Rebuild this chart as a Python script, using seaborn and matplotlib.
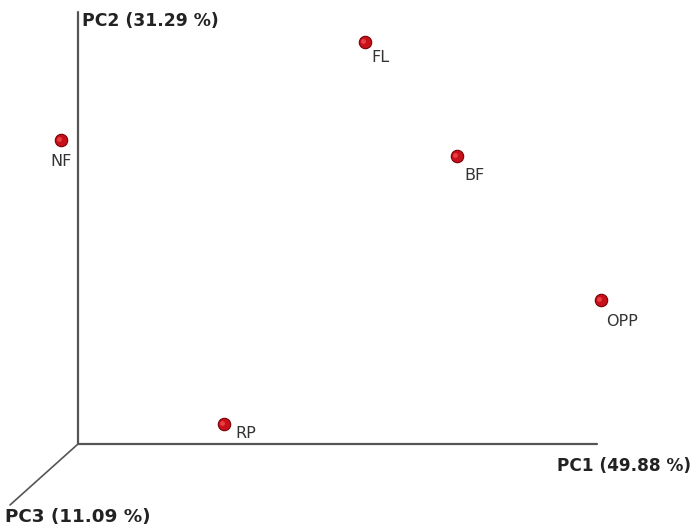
import matplotlib
matplotlib.use("Agg")
import matplotlib.pyplot as plt
import seaborn as sns
import pandas as pd

samples = ["NF", "FL", "BF", "OPP", "RP"]
# projected positions on the 3D PCoA canvas (screen units)
pos_x = [61, 365, 457, 601, 224]
pos_y = [140, 42, 156, 300, 424]
label_dx = [-11, 6, 7, 5, 11]
label_dy = [21, 16, 19, 21, 10]
axis_labels = ["PC1 (49.88 %)", "PC2 (31.29 %)", "PC3 (11.09 %)"]

df = pd.DataFrame({"sample": samples, "x": pos_x, "y": pos_y})

sns.set_style("white")
fig = plt.figure(figsize=(6.94, 5.31), dpi=100)
ax = fig.add_axes([0, 0, 1, 1])
ax.set_xlim(0, 694)
ax.set_ylim(531, 0)
ax.axis("off")

# axes of the 3D frame
axcol = "#555555"
origin = (78, 444)
ax.plot([origin[0], 597], [origin[1], origin[1]], color=axcol, lw=1.6, zorder=1)
ax.plot([origin[0], origin[0]], [origin[1], 12], color=axcol, lw=1.6, zorder=1)
ax.plot([origin[0], 10], [origin[1], 505], color=axcol, lw=1.2, zorder=1)

sns.scatterplot(data=df, x="x", y="y", ax=ax, s=80, color="#c8101a",
                edgecolor="#7a0008", linewidth=0.8, legend=False, zorder=3)
# specular highlight for sphere look
ax.scatter([x - 1.5 for x in pos_x], [y - 1.5 for y in pos_y], s=12,
           color="#ff6060", alpha=0.6, linewidths=0, zorder=4)

for s, x, y, dx, dy in zip(samples, pos_x, pos_y, label_dx, label_dy):
    ax.text(x + dx, y + dy, s, fontsize=11.5, color="#333333",
            ha="left", va="center", zorder=5)

ax.text(557, 466, axis_labels[0], fontsize=12.2, fontweight="bold",
        color="#222222", ha="left", va="center")
ax.text(82, 21, axis_labels[1], fontsize=12.4, fontweight="bold",
        color="#222222", ha="left", va="center")
ax.text(5, 517, axis_labels[2], fontsize=13.2, fontweight="bold",
        color="#222222", ha="left", va="center")

fig.savefig("out.png", dpi=100)
